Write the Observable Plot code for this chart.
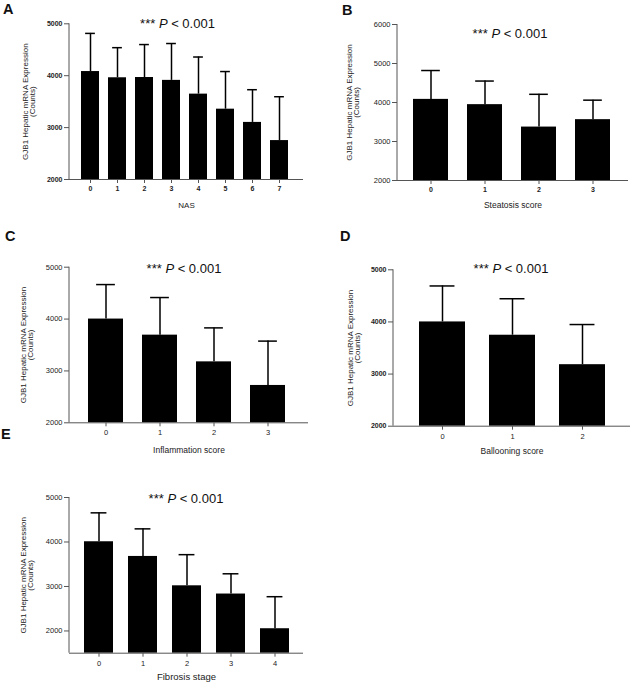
<!DOCTYPE html>
<html><head><meta charset="utf-8">
<script src="https://cdn.jsdelivr.net/npm/d3@7"></script>
<script src="https://cdn.jsdelivr.net/npm/@observablehq/plot@0.6"></script>
<style>
body{margin:0;background:#fff;}
#fig{position:relative;width:631px;height:686px;font-family:Arial,"Liberation Sans",sans-serif;overflow:hidden;background:#fff;}
.panel{position:absolute;}
.letter{position:absolute;font-weight:bold;font-size:14.5px;line-height:1;color:#111;}
.ptitle{position:absolute;font-size:13px;line-height:1;white-space:nowrap;transform:translate(-50%,-50%);color:#111;}
</style></head><body><div id="fig"></div>
<script>
// ---- data ----
const yLabel = "GJB1 Hepatic mRNA Expression\n(Counts)";
const panelLetters = ["A", "B", "C", "D", "E"];
const xTitles = ["NAS", "Steatosis score", "Inflammation score", "Ballooning score", "Fibrosis stage"];

const nasCats = ["0", "1", "2", "3", "4", "5", "6", "7"];
const nasMean = [4080, 3960, 3965, 3910, 3645, 3355, 3100, 2750];
const nasSD   = [735, 580, 635, 710, 715, 725, 630, 845];

const steatosisCats = ["0", "1", "2", "3"];
const steatosisMean = [4080, 3945, 3370, 3560];
const steatosisSD   = [740, 605, 840, 500];

const inflammationCats = ["0", "1", "2", "3"];
const inflammationMean = [4000, 3690, 3175, 2720];
const inflammationSD   = [665, 725, 655, 855];

const ballooningCats = ["0", "1", "2"];
const ballooningMean = [4000, 3745, 3180];
const ballooningSD   = [690, 700, 770];

const fibrosisCats = ["0", "1", "2", "3", "4"];
const fibrosisMean = [4005, 3675, 3015, 2830, 2050];
const fibrosisSD   = [650, 620, 700, 455, 720];

const ticks3k = [2000, 3000, 4000, 5000];
const ticks4k = [2000, 3000, 4000, 5000, 6000];

// ---- layout ----
const fig = document.getElementById("fig");

function drawPanel(c) {
  const data = c.cats.map((cat, i) => ({cat, mean: c.mean[i], sd: c.sd[i]}));
  const base = c.yDomain[0];
  const ml = c.fx0 - c.left, mr = c.left + c.width - c.fx1;
  const mt = c.fy0 - c.top, mb = c.top + c.height - c.fy1;
  const step = (c.r1 - c.r0) / c.cats.length;
  const bw = step * 0.65;
  const capInset = bw * 0.23;
  const axisColor = "#555";
  const leftLine = (index, scales, values, dims) => {
    const l = document.createElementNS("http://www.w3.org/2000/svg", "line");
    l.setAttribute("x1", dims.marginLeft); l.setAttribute("x2", dims.marginLeft);
    l.setAttribute("y1", scales.y(c.yDomain[1])); l.setAttribute("y2", scales.y(base));
    l.setAttribute("stroke", axisColor); l.setAttribute("stroke-width", 1);
    return l;
  };
  const svg = Plot.plot({
    width: c.width, height: c.height,
    marginLeft: ml, marginRight: mr, marginTop: mt, marginBottom: mb,
    style: {background: "transparent", fontFamily: "Arial, 'Liberation Sans', sans-serif", overflow: "visible"},
    x: {domain: c.cats, range: [c.r0 - c.left, c.r1 - c.left], paddingInner: 0.35, paddingOuter: 0.175, align: 0.5},
    y: {domain: c.yDomain},
    marks: [
      Plot.barY(data, {x: "cat", y1: () => base, y2: "mean", fill: "#000"}),
      Plot.ruleX(data, {x: "cat", y1: "mean", y2: d => d.mean + d.sd, stroke: "#000", strokeWidth: 1.5}),
      Plot.tickY(data, {x: "cat", y: d => d.mean + d.sd, stroke: "#000", strokeWidth: 1.5, insetLeft: capInset, insetRight: capInset}),
      Plot.ruleY([base], {stroke: axisColor, strokeWidth: 1}),
      leftLine,
      Plot.axisY({ticks: c.yTicks, tickFormat: d => String(d), tickSize: 5, tickPadding: 2, label: null,
        stroke: axisColor, fill: "#222", fontSize: c.yFont, fontWeight: c.yBold ? "bold" : "normal"}),
      Plot.axisX({tickSize: 4, tickPadding: 3, label: null, stroke: axisColor, fill: "#222",
        fontSize: c.xFont, fontWeight: c.xBold ? "bold" : "normal"}),
      Plot.text([c.xTitle], {text: d => d, frameAnchor: "bottom", dy: c.xTitleDy, fontSize: c.xTitleFont, fill: "#222"}),
      Plot.text([yLabel], {text: d => d, frameAnchor: "left", textAnchor: "middle", lineAnchor: "middle", dx: c.yLabelDx, rotate: -90, fontSize: 8, lineHeight: 0.9, fill: "#222"})
    ]
  });
  d3.select(svg).selectAll('[aria-label="y-axis tick label"] text').attr("font-weight", c.yBold ? "bold" : "normal");
  d3.select(svg).selectAll('[aria-label="x-axis tick label"] text').attr("font-weight", c.xBold ? "bold" : "normal");
  svg.classList.add("panel");
  svg.style.left = c.left + "px";
  svg.style.top = c.top + "px";
  fig.appendChild(svg);

  const t = document.createElement("div");
  t.className = "ptitle";
  t.style.left = c.titleX + "px"; t.style.top = c.titleY + "px";
  t.innerHTML = "*** <i>P</i> &lt; 0.001";
  fig.appendChild(t);

  const L = document.createElement("div");
  L.className = "letter";
  L.style.left = c.letterX + "px"; L.style.top = c.letterY + "px";
  L.textContent = c.letter;
  fig.appendChild(L);
}

drawPanel({cats: nasCats, mean: nasMean, sd: nasSD, yDomain: [2000, 5000], yTicks: ticks3k,
  left: 0, top: 0, width: 315, height: 225, fx0: 69, fx1: 303, fy0: 23.3, fy1: 179, r0: 74.2, r1: 294.8,
  yBold: true, xBold: true, yFont: 7, xFont: 7, xTitle: xTitles[0], xTitleDy: 28, xTitleFont: 8, yLabelDx: -40.5,
  titleX: 177.5, titleY: 23, letter: panelLetters[0], letterX: 3, letterY: 1.5});

drawPanel({cats: steatosisCats, mean: steatosisMean, sd: steatosisSD, yDomain: [2000, 6000], yTicks: ticks4k,
  left: 320, top: 0, width: 311, height: 225, fx0: 397, fx1: 628, fy0: 24, fy1: 180, r0: 402.7, r1: 621.3,
  yBold: false, xBold: true, yFont: 7.5, xFont: 7, xTitle: xTitles[1], xTitleDy: 27, xTitleFont: 8.5, yLabelDx: -44,
  titleX: 510, titleY: 33, letter: panelLetters[1], letterX: 342, letterY: 3});

drawPanel({cats: inflammationCats, mean: inflammationMean, sd: inflammationSD, yDomain: [2000, 5000], yTicks: ticks3k,
  left: 0, top: 225, width: 315, height: 235, fx0: 69, fx1: 308, fy0: 266.7, fy1: 422.3, r0: 77.8, r1: 295.2,
  yBold: false, xBold: false, yFont: 7.5, xFont: 7.5, xTitle: xTitles[2], xTitleDy: 29.7, xTitleFont: 8.5, yLabelDx: -42.5,
  titleX: 184, titleY: 267.7, letter: panelLetters[2], letterX: 5, letterY: 228.5});

drawPanel({cats: ballooningCats, mean: ballooningMean, sd: ballooningSD, yDomain: [2000, 5000], yTicks: ticks3k,
  left: 320, top: 225, width: 311, height: 240, fx0: 393, fx1: 630, fy0: 269.3, fy1: 425.7, r0: 405.75, r1: 617.25,
  yBold: true, xBold: false, yFont: 7, xFont: 7.5, xTitle: xTitles[3], xTitleDy: 27.3, xTitleFont: 8.5, yLabelDx: -39.5,
  titleX: 511, titleY: 268, letter: panelLetters[3], letterX: 340, letterY: 228.5});

drawPanel({cats: fibrosisCats, mean: fibrosisMean, sd: fibrosisSD, yDomain: [1500, 5000], yTicks: ticks3k,
  left: 0, top: 455, width: 315, height: 231, fx0: 69, fx1: 303, fy0: 497, fy1: 652.7, r0: 76.5, r1: 296.5,
  yBold: false, xBold: false, yFont: 7.5, xFont: 7.5, xTitle: xTitles[4], xTitleDy: 26.3, xTitleFont: 9.5, yLabelDx: -42,
  titleX: 186, titleY: 498, letter: panelLetters[4], letterX: 1, letterY: 426.5});
</script></body></html>
